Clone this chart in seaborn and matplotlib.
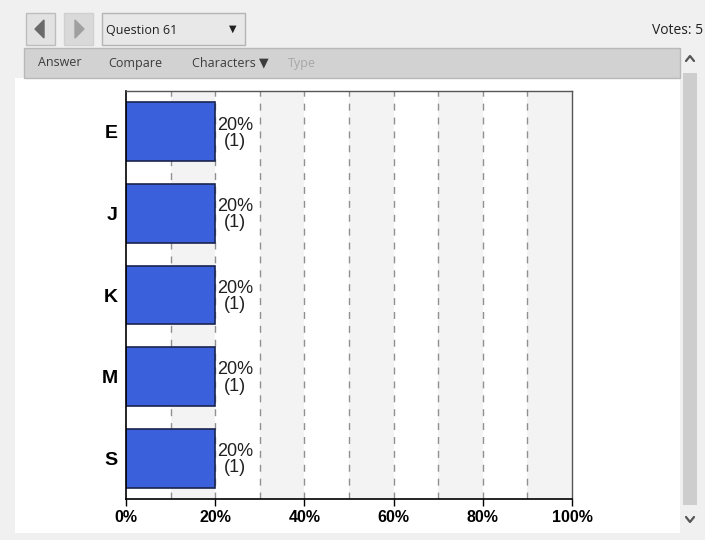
import matplotlib
matplotlib.use('Agg')
import matplotlib.pyplot as plt
import matplotlib.patches as mpatches
import seaborn as sns
import pandas as pd

# chart data
answers = ['E', 'J', 'K', 'M', 'S']
percent = [20, 20, 20, 20, 20]
votes = [1, 1, 1, 1, 1]
total_votes = 5
question = 'Question 61'
toolbar_items = ['Answer', 'Compare', 'Characters \u25bc', 'Type']
xticks = [0, 20, 40, 60, 80, 100]

BAR_BLUE = '#3a60dc'
UI_FONT = ['Open Sans', 'DejaVu Sans']

sns.set_theme(style='white')
plt.rcParams['font.family'] = ['Liberation Sans', 'DejaVu Sans']

fig = plt.figure(figsize=(7.05, 5.4), dpi=100)
fig.patch.set_facecolor('#f0f0f0')

# window chrome drawn in pixel coordinates
ui = fig.add_axes([0, 0, 1, 1], zorder=0)
ui.set_xlim(0, 705)
ui.set_ylim(540, 0)
ui.axis('off')


def box(x0, y0, x1, y1, fc, ec='none', lw=1):
    ui.add_patch(mpatches.Rectangle((x0, y0), x1 - x0, y1 - y0, facecolor=fc,
                                    edgecolor=ec, linewidth=lw))


box(15, 78, 680, 533, 'white')
box(24, 48, 680, 78, '#d2d2d2', '#b8b8b8')
box(683, 73, 697, 505, '#cdcdcd')
box(26, 13, 55, 45, '#e2e2e2', '#bdbdbd')
box(64, 13, 93, 45, '#d9d9d9', '#d0d0d0')
box(102, 13, 245, 45, '#e8e8e8', '#b4b4b4')
ui.add_patch(mpatches.Polygon([(35, 29), (44, 20), (44, 38)], closed=True, color='#6a6a6a'))
ui.add_patch(mpatches.Polygon([(84, 29), (75, 20), (75, 38)], closed=True, color='#a0a0a0'))
ui.text(106, 30, question, fontsize=9, va='center', ha='left', color='#202020', family=UI_FONT)
ui.text(233, 29, '\u25bc', fontsize=7, va='center', ha='center', color='#202020', family=['DejaVu Sans'])
ui.text(703, 30, f'Votes: {total_votes}', fontsize=10, va='center', ha='right', color='#202020', family=UI_FONT)
for lbl, x in zip(toolbar_items, [38, 108, 192, 288]):
    col = '#a8a8a8' if lbl == 'Type' else '#3c3c3c'
    ui.text(x, 63, lbl, fontsize=9, va='center', ha='left', color=col, family=UI_FONT)
# scrollbar arrows
ui.plot([686, 690, 694], [61, 56, 61], color='#555555', lw=1.6, solid_capstyle='round')
ui.plot([686, 690, 694], [517, 522, 517], color='#555555', lw=1.6, solid_capstyle='round')

# chart
ax = fig.add_axes([126 / 705, 1 - 499 / 540, 446 / 705, 408 / 540], zorder=2)
ax.set_facecolor('white')
for i in range(10, 100, 20):
    ax.axvspan(i, i + 10, color='#f3f3f3', zorder=0, lw=0)
for i in range(10, 100, 10):
    ax.axvline(i, color='#909090', linestyle=(0, (5, 5)), linewidth=1, zorder=0.5)

df = pd.DataFrame({'answer': answers, 'percent': percent, 'votes': votes})
sns.barplot(data=df, x='percent', y='answer', orient='h', color=BAR_BLUE,
            saturation=1, width=0.72, edgecolor='#1b2550', linewidth=1.2,
            ax=ax, zorder=2)

for i, row in df.iterrows():
    ax.annotate(f"{row['percent']}%\n({row['votes']})", xy=(row['percent'], i),
                xytext=(1.5, -1), textcoords='offset points', ha='left', va='center',
                multialignment='center', fontsize=13, color='#202020', linespacing=0.95)

ax.set_xlim(0, 100)
ax.set_xticks(xticks)
ax.set_xticklabels([f'{t}%' for t in xticks], fontsize=11.5, fontweight='bold', color='black')
ax.tick_params(axis='x', direction='out', length=5, width=1, color='black', pad=3, bottom=True)
ax.tick_params(axis='y', length=0, pad=6)
for t in ax.get_yticklabels():
    t.set_fontsize(14)
    t.set_fontweight('bold')
    t.set_color('black')
ax.set_xlabel('')
ax.set_ylabel('')
for side in ['left', 'bottom']:
    ax.spines[side].set_color('black')
    ax.spines[side].set_linewidth(1.2)
for side in ['top', 'right']:
    ax.spines[side].set_color('#555555')
    ax.spines[side].set_linewidth(1)

fig.savefig('out.png', dpi=100, facecolor=fig.get_facecolor())
